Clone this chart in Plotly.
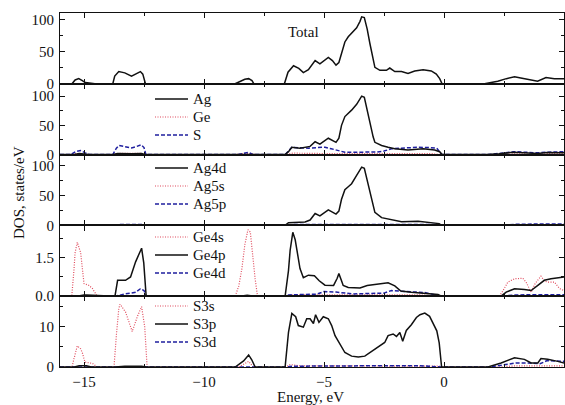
import plotly.graph_objects as go

# ---------------- data (energy in eV, DOS in states/eV) ----------------
TOTAL_E = [-16, -15.5, -15.37, -15.22, -15.07, -14.95, -14.7, -14.55, -13.8, -13.72, -13.55, -13.3, -13.02, -12.8, -12.65, -12.55, -12.44,
           -8.7, -8.5, -8.3, -8.14, -8.0, -7.92, -6.65, -6.5, -6.27, -6.05, -5.86, -5.65, -5.37, -5.17, -4.95, -4.82, -4.65, -4.5, -4.38,
           -4.27, -4.13, -3.99, -3.85, -3.64, -3.5, -3.43, -3.32, -3.2, -3.09, -2.95, -2.88, -2.67, -2.4, -2.26, -2.05, -1.77, -1.5, -1.22,
           -0.87, -0.53, -0.32, -0.18, -0.08, 1.69, 2.0, 2.24, 2.6, 2.94, 3.2, 3.49, 3.9, 4.25, 4.6, 4.94, 5.0]
TOTAL_V = [0, 0, 6, 8, 5, 2, 1, 0, 0, 12, 19, 17, 12, 16, 19, 15, 0,
           0, 3, 7, 8, 5, 0, 0, 18, 28, 24, 17.5, 22, 36, 31, 38, 41, 36, 29, 33,
           47, 65, 73, 79, 87, 97, 104, 103, 85, 63, 35, 25.5, 21, 21, 24.5, 19, 19, 16, 20,
           22, 20, 15, 8, 0, 0, 2, 4, 8, 11, 9, 7, 4, 9.6, 8, 8, 8]

AG_E = [-16, -15.4, -15.2, -15.0, -14.8, -13.8, -13.6, -13.0, -12.6, -12.44, -8.5, -8.14, -7.9, -6.62, -6.48, -6.34, -6.0, -5.79,
        -5.58, -5.37, -5.17, -4.82, -4.5, -4.38, -4.27, -4.13, -3.99, -3.85, -3.64, -3.5, -3.43, -3.32, -3.2, -3.09, -2.95, -2.88,
        -2.6, -2.33, -2.05, -1.5, -0.87, -0.39, -0.18, -0.08, 1.8, 2.3, 2.9, 3.3, 3.9, 4.3, 4.9, 5.0]
AG_V = [0, 0, 2, 1, 0, 0, 2, 1.5, 2, 0, 0, 1, 0, 0, 5, 12.6, 11, 12,
        14, 22, 18, 28, 21, 28, 50, 65, 70, 76, 86, 95, 100, 98, 75, 53, 30, 21,
        15.5, 12.6, 10, 8, 10, 8, 5, 0, 0, 1.5, 4, 3, 2, 3.5, 3, 3]

GE_E = [-16, -15.5, -15.3, -15.0, -13.8, -13.5, -12.6, -12.44, -8.7, -8.2, -7.8, -6.6, -6.3, -5.5, -4.5, -3.5, -2.5, -1.5, -0.5,
        -0.1, 2.3, 3.0, 3.5, 4.3, 5.0]
GE_V = [0, 0, 2, 0, 0, 2, 2, 0, 0, 2, 0, 0, 2.5, 1.5, 1.5, 1.5, 1.5, 1.5, 1.5,
        0, 0, 1.5, 1, 1.5, 1.5]

S_E = [-16, -15.55, -15.35, -15.15, -14.95, -14.75, -13.8, -13.65, -13.55, -13.3, -13.02, -12.8, -12.62, -12.5, -12.42, -8.6, -8.3,
       -8.14, -7.95, -6.62, -6.48, -6.34, -6.0, -5.65, -5.3, -4.96, -4.7, -4.4, -4.13, -3.8, -3.3, -2.8, -2.5, -2.19, -1.77, -1.08,
       -0.6, -0.3, -0.1, 1.8, 2.3, 2.9, 3.4, 3.9, 4.3, 4.9, 5.0]
S_V = [0, 0, 5, 7, 3, 0, 0, 11, 15.5, 14, 11.5, 14, 16.7, 12, 0, 0, 3,
       4, 0, 0, 6, 12.6, 11.5, 11, 12, 12.6, 10, 7, 4, 4, 4, 4.5, 6, 10, 11, 12.6,
       12, 11, 0, 0, 2, 5, 4, 3, 4, 5, 5]

AG4D_E = [-16, -6.62, -6.48, -6.0, -5.79, -5.58, -5.37, -5.17, -4.82, -4.5, -4.38, -4.27, -4.13, -3.99, -3.85, -3.64, -3.5, -3.43,
          -3.32, -3.2, -3.09, -2.95, -2.88, -2.6, -2.19, -1.77, -1.08, -0.39, -0.2, -0.1, 5.0]
AG4D_V = [0, 0, 4.5, 5, 5.7, 9, 20, 16, 26, 19, 24, 44, 60, 65, 70, 84, 93, 98,
          96, 75, 56, 32, 22, 13, 10, 6, 7, 4.5, 3, 0, 0]

AG5S_E = [-16, -6.6, -6.3, -3.5, -0.2, -0.1, 5.0]
AG5S_V = [0, 0, 1, 1, 1, 0, 0]

AG5P_E = [-16, -13.8, -13.5, -12.6, -12.44, -6.6, -6.3, -3.0, -0.3, -0.1, 2.3, 3.0, 4.0, 5.0]
AG5P_V = [0, 0, 1.5, 1.5, 0, 0, 1.5, 1.5, 1.5, 0, 0, 2, 2, 2.5]

GE4S_E = [-16, -15.51, -15.42, -15.37, -15.28, -15.2, -15.14, -15.0, -14.79, -14.65, -14.45, -13.7, -12.4, -8.7, -8.55, -8.42,
          -8.3, -8.17, -8.07, -7.95, -7.87, -7.77, -6.6, -6.3, -4.0, -1.0, -0.1, 2.3, 2.45, 2.66, 2.94, 3.28, 3.42, 3.63, 3.8, 4.04,
          4.18, 4.32, 4.6, 4.81, 5.0]
GE4S_V = [0, 0, 1.0, 1.7, 2.1, 1.9, 1.7, 0.49, 0.42, 0.3, 0, 0, 0, 0, 0.4, 1.08,
          2.0, 2.59, 2.5, 1.3, 0.68, 0, 0, 0.05, 0.05, 0.05, 0, 0, 0.2, 0.55, 0.68, 0.70, 0.55, 0.15, 0.5, 0.78,
          0.6, 0.55, 0.55, 0.3, 0.22]

GE4P_E = [-16, -15.3, -15.0, -14.9, -13.71, -13.6, -13.55, -13.27, -13.06, -12.85, -12.6, -12.51, -12.41, -8.5, -8.2, -7.9,
          -6.62, -6.48, -6.41, -6.3, -6.2, -6.0, -5.86, -5.65, -5.4, -5.2, -4.96, -4.6, -4.45, -4.38, -4.27, -4.2, -3.99, -3.5,
          -3.2, -2.9, -2.6, -2.33, -2.05, -1.8, -1.36, -0.94, -0.25, -0.11, 2.38, 2.59, 2.94, 3.35, 3.63, 3.91, 4.18, 4.46,
          4.74, 4.94, 5.0]
GE4P_V = [0, 0, 0.05, 0.05, 0, 0.62, 0.62, 0.62, 0.75, 1.34, 1.87, 1.3, 0, 0, 0.04, 0,
          0, 1.0, 1.8, 2.49, 2.2, 1.08, 0.72, 0.82, 0.80, 0.6, 0.43, 0.42, 0.7, 0.88, 0.6, 0.42, 0.34, 0.32,
          0.42, 0.45, 0.5, 0.52, 0.4, 0.2, 0.15, 0.13, 0.07, 0, 0, 0.16, 0.29, 0.26, 0.22, 0.42, 0.62, 0.68,
          0.71, 0.75, 0.75]

GE4D_E = [-16, -13.7, -13.27, -12.85, -12.65, -12.5, -12.41, -6.6, -6.48, -5.3, -5.0, -4.5, -3.8, -2.5, -2.19, -1.5, -0.8,
          -0.1, 2.3, 3.0, 4.0, 5.0]
GE4D_V = [0, 0, 0.09, 0.15, 0.29, 0.22, 0, 0, 0.05, 0.08, 0.18, 0.16, 0.09, 0.12, 0.22, 0.18, 0.14,
          0, 0, 0.05, 0.05, 0.06]

S3S_E = [-16, -15.5, -15.42, -15.28, -15.14, -15.07, -14.96, -14.65, -14.45, -13.75, -13.65, -13.55, -13.5, -13.27, -12.99,
         -12.78, -12.6, -12.47, -12.37, -8.56, -8.14, -7.94, -6.62, -6.4, -6.0, -3.0, -0.2, -0.1, 2.3, 3.0, 4.0, 5.0]
S3S_V = [0, 0, 2, 5.25, 4.5, 3.56, 1.2, 0.9, 0, 0, 8, 14.5, 15.6, 13.7, 8.8,
         12.5, 15, 10, 0, 0, 1.4, 0, 0, 0.6, 0.3, 0.2, 0.2, 0, 0, 0.3, 0.3, 0.3]

S3P_E = [-16, -15.4, -15.2, -14.9, -14.7, -13.7, -13.3, -12.6, -12.4, -8.7, -8.35, -8.14, -8.01, -7.87, -6.62, -6.48, -6.34,
         -6.18, -6.07, -5.86, -5.72, -5.58, -5.44, -5.35, -5.21, -5.03, -4.82, -4.68, -4.54, -4.34, -4.13, -3.85, -3.57, -3.3,
         -3.07, -2.74, -2.47, -2.33, -2.12, -1.98, -1.84, -1.72, -1.57, -1.36, -1.15, -1.0, -0.8, -0.6, -0.46, -0.3, -0.2, -0.1,
         1.83, 2.38, 2.94, 3.35, 3.63, 3.91, 4.04, 4.32, 4.74, 4.94, 5.0]
S3P_V = [0, 0, 0.3, 0.3, 0, 0, 0.2, 0.2, 0, 0, 1.5, 3.0, 1.8, 0, 0, 8.6, 13.3,
         12.5, 10.3, 9.9, 12, 12, 10.8, 13, 11.1, 12.5, 12, 10.3, 7.8, 5.7, 3.6, 2.7, 2.5, 2.7,
         3.6, 5, 6.1, 7.8, 8.2, 7.6, 8.6, 6.4, 9.1, 10.5, 12.3, 13.0, 13.4, 12.6, 10.8, 9, 6, 0,
         0, 1.0, 2.3, 1.9, 1.0, 1.0, 2.1, 1.9, 1.4, 1.0, 1.0]

S3D_E = [-16, -6.6, -6.3, -5.0, -3.0, -1.0, -0.1, 1.9, 2.4, 3.0, 3.5, 4.0, 4.3, 4.6, 5.0]
S3D_V = [0, 0, 0.2, 0.3, 0.3, 0.3, 0, 0, 0.5, 1.0, 1.0, 0.8, 1.6, 1.5, 1.4]

X_TICKS = [-15, -10, -5, 0, 5]
Y_RANGES = [[0, 110], [0, 121], [0, 119], [0, 2.76], [0, 17.6]]

# ---------------- styles ----------------
FONT = "Liberation Serif"
FS = 15
TXT = "#111111"
BLACK = dict(color="#111111", width=1.5)
RED = dict(color="#e04a5c", width=1.2, dash="1px,1.5px")
BLUE = dict(color="#1f1f9f", width=1.5, dash="4px,2px")

W, H = 565, 405
ML, MR, MT, MB = 60, 1, 13, 38
PW, PH = W - ML - MR, H - MT - MB

fig = go.Figure()

def add(x, y, name, line, panel):
    fig.add_trace(go.Scatter(
        x=x, y=y, name=name, mode="lines", line=line, showlegend=False,
        xaxis="x" if panel == 1 else f"x{panel}",
        yaxis="y" if panel == 1 else f"y{panel}"))

add(TOTAL_E, TOTAL_V, "Total", BLACK, 1)
add(GE_E, GE_V, "Ge", RED, 2)
add(S_E, S_V, "S", BLUE, 2)
add(AG_E, AG_V, "Ag", BLACK, 2)
add(AG5S_E, AG5S_V, "Ag5s", RED, 3)
add(AG5P_E, AG5P_V, "Ag5p", BLUE, 3)
add(AG4D_E, AG4D_V, "Ag4d", BLACK, 3)
add(GE4S_E, GE4S_V, "Ge4s", RED, 4)
add(GE4D_E, GE4D_V, "Ge4d", BLUE, 4)
add(GE4P_E, GE4P_V, "Ge4p", BLACK, 4)
add(S3S_E, S3S_V, "S3s", RED, 5)
add(S3D_E, S3D_V, "S3d", BLUE, 5)
add(S3P_E, S3P_V, "S3p", BLACK, 5)

layout = dict(
    width=W, height=H,
    margin=dict(l=ML, r=MR, t=MT, b=MB, pad=0),
    paper_bgcolor="white", plot_bgcolor="white",
    font=dict(family=FONT, size=FS, color=TXT),
)

n = 5
step = 1.0 / n
for i in range(1, n + 1):
    dom = [1 - i * step, 1 - (i - 1) * step]
    xa = dict(domain=[0, 1], range=[-16, 5], anchor="y" if i == 1 else f"y{i}",
              showline=True, linecolor="#111111", linewidth=1.2, mirror="allticks",
              ticks="inside", ticklen=5, tickwidth=1.2, tickcolor="#111111",
              tickvals=X_TICKS, showgrid=False, zeroline=False,
              minor=dict(ticks="inside", ticklen=3, dtick=2.5, tick0=0, tickcolor="#111111", showgrid=False),
              showticklabels=(i == n))
    if i != 1:
        xa["matches"] = "x"
    if i == n:
        xa["ticklabelstandoff"] = 1
    if i == 4:
        ytick = dict(tickvals=[0, 1.5], ticktext=["0.0", "1.5"], minor=dict(ticks="inside", ticklen=3, dtick=0.75, tick0=0, tickcolor="#111111", showgrid=False))
    elif i == 5:
        ytick = dict(tickvals=[0, 10], minor=dict(ticks="inside", ticklen=3, dtick=5, tick0=0, tickcolor="#111111", showgrid=False))
    else:
        ytick = dict(tickvals=[0, 50, 100], minor=dict(ticks="inside", ticklen=3, dtick=25, tick0=0, tickcolor="#111111", showgrid=False))
    ya = dict(domain=dom, range=Y_RANGES[i - 1], anchor="x" if i == 1 else f"x{i}",
              showline=True, linecolor="#111111", linewidth=1.2, mirror="allticks",
              ticks="inside", ticklen=5, tickwidth=1.2, tickcolor="#111111",
              showgrid=False, zeroline=False, ticklabelstandoff=2, **ytick)
    layout["xaxis" if i == 1 else f"xaxis{i}"] = xa
    layout["yaxis" if i == 1 else f"yaxis{i}"] = ya

def px_x(px):
    return (px - ML) / PW

def px_y(py):
    return 1 - (py - MT) / PH

annotations = [
    dict(text="Total", x=px_x(303), y=px_y(32), xref="paper", yref="paper", showarrow=False,
         xanchor="center", yanchor="middle", font=dict(family=FONT, size=FS, color=TXT)),
    dict(text="DOS, states/eV", x=px_x(19), y=px_y(193), xref="paper", yref="paper", showarrow=False,
         xanchor="center", yanchor="middle", textangle=-90, font=dict(family=FONT, size=FS, color=TXT)),
    dict(text="Energy, eV", x=px_x(310), y=px_y(397), xref="paper", yref="paper", showarrow=False,
         xanchor="center", yanchor="middle", font=dict(family=FONT, size=FS, color=TXT)),
]

# legend blocks: (first row y in pixels, entries)
LEGENDS = [
    (99, [("Ag", BLACK), ("Ge", RED), ("S", BLUE)]),
    (168, [("Ag4d", BLACK), ("Ag5s", RED), ("Ag5p", BLUE)]),
    (237, [("Ge4s", RED), ("Ge4p", BLACK), ("Ge4d", BLUE)]),
    (306, [("S3s", RED), ("S3p", BLACK), ("S3d", BLUE)]),
]
ROW = 18
shapes = []
for y0, entries in LEGENDS:
    for k, (label, style) in enumerate(entries):
        yy = px_y(y0 + k * ROW)
        shapes.append(dict(type="line", xref="paper", yref="paper",
                           x0=px_x(155), x1=px_x(188), y0=yy, y1=yy,
                           line=dict(color=style["color"], width=style["width"], dash=style.get("dash", "solid"))))
        annotations.append(dict(text=label, x=px_x(191), y=yy, xref="paper", yref="paper", showarrow=False,
                                xanchor="left", yanchor="middle", font=dict(family=FONT, size=FS, color=TXT)))

layout["annotations"] = annotations
layout["shapes"] = shapes

fig.update_layout(**layout)
fig.write_html("out.html")
